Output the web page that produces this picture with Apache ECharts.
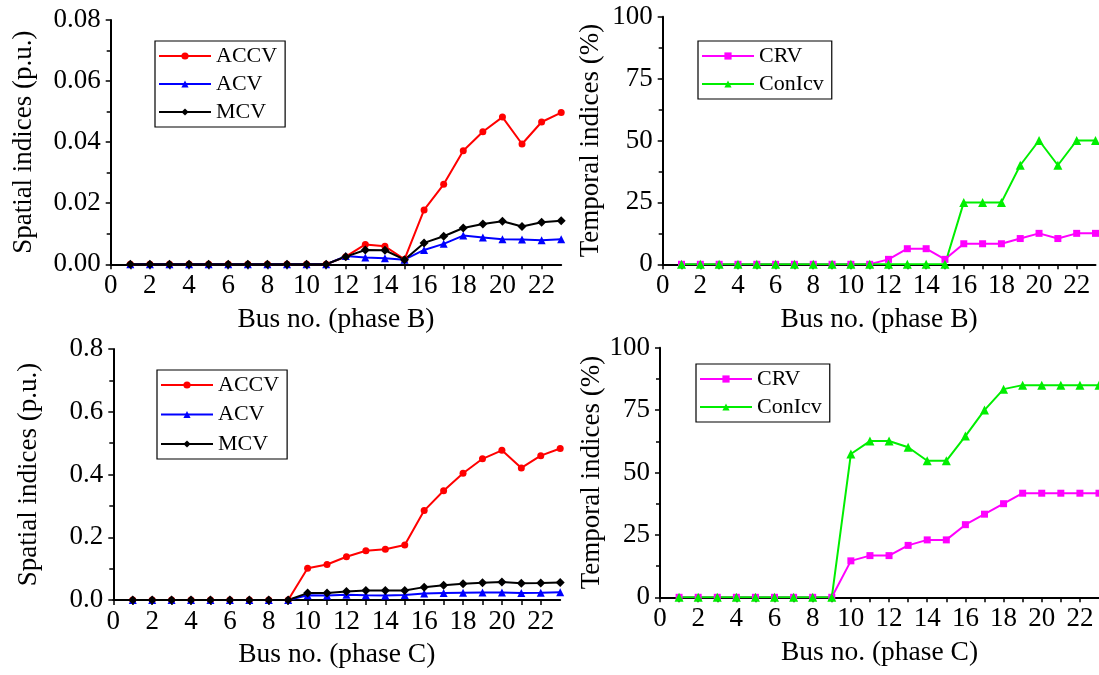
<!DOCTYPE html>
<html>
<head>
<meta charset="utf-8">
<script src="https://cdn.jsdelivr.net/npm/echarts@6/dist/echarts.min.js"></script>
<style>html,body{margin:0;padding:0;background:#fff}#c{width:1099px;height:675px}</style>
</head>
<body>
<div id="c"></div>
<script>
const busNo = [1,2,3,4,5,6,7,8,9,10,11,12,13,14,15,16,17,18,19,20,21,22,23];

// Phase B spatial indices (p.u.)
const accvB = [0,0,0,0,0,0,0,0,0,0,0,0.0025,0.0065,0.0059,0.0016,0.0178,0.0262,0.0372,0.0434,0.0482,0.0394,0.0466,0.0497];
const acvB  = [0,0,0,0,0,0,0,0,0,0,0,0.0027,0.0022,0.0020,0.0015,0.0047,0.0067,0.0094,0.0088,0.0082,0.0081,0.0079,0.0082];
const mcvB  = [0,0,0,0,0,0,0,0,0,0,0,0.0025,0.0047,0.0046,0.0015,0.0070,0.0092,0.0119,0.0132,0.0141,0.0124,0.0138,0.0143];
// Phase B temporal indices (%)
const crvB    = [0,0,0,0,0,0,0,0,0,0,0,2.0,6.3,6.3,2.0,8.3,8.3,8.3,10.4,12.5,10.4,12.5,12.5];
const conIcvB = [0,0,0,0,0,0,0,0,0,0,0,0,0,0,0,25,25,25,40,50,40,50,50];
// Phase C spatial indices (p.u.)
const accvC = [0,0,0,0,0,0,0,0,0,0.101,0.113,0.138,0.157,0.162,0.175,0.285,0.348,0.404,0.450,0.477,0.421,0.460,0.483];
const acvC  = [0,0,0,0,0,0,0,0,0,0.015,0.014,0.017,0.015,0.014,0.016,0.021,0.022,0.023,0.024,0.024,0.022,0.023,0.025];
const mcvC  = [0,0,0,0,0,0,0,0,0,0.022,0.022,0.027,0.030,0.030,0.030,0.041,0.047,0.052,0.055,0.057,0.053,0.054,0.056];
// Phase C temporal indices (%)
const crvC    = [0,0,0,0,0,0,0,0,0,14.6,16.7,16.7,20.8,23.0,23.0,29.1,33.3,37.5,41.7,41.7,41.7,41.7,41.7];
const conIcvC = [0,0,0,0,0,0,0,0,0,57.4,62.6,62.6,60.1,54.7,54.7,64.6,75.0,83.4,85.0,85.0,85.0,85.0,85.0];

const xTitles = ['Bus no. (phase B)', 'Bus no. (phase B)', 'Bus no. (phase C)', 'Bus no. (phase C)'];
const yTitles = ['Spatial indices (p.u.)', 'Temporal indices (%)', 'Spatial indices (p.u.)', 'Temporal indices (%)'];

const FONT = '"Liberation Serif", "Times New Roman", serif';
const pair = (xs, ys) => xs.map((x, i) => [x, ys[i]]);

const grids = [
  {left: 110.7, top: 20, width: 450.5, height: 244.3},
  {left: 662.7, top: 16.7, width: 432.8, height: 247.6},
  {left: 113.3, top: 349, width: 446.9, height: 251},
  {left: 660, top: 347.7, width: 442.6, height: 249.6}
];
const yCfg = [
  {max: 0.08, interval: 0.02, dec: 2, gap: 73},
  {max: 100, interval: 25, dec: 0, gap: 58},
  {max: 0.8, interval: 0.2, dec: 1, gap: 71},
  {max: 100, interval: 25, dec: 0, gap: 52}
];

const axisLine = {show: true, onZero: false, lineStyle: {color: '#000', width: 2}};

const xAxes = grids.map((g, i) => ({
  type: 'value', gridIndex: i, min: 0, max: 23, interval: 1,
  name: xTitles[i], nameLocation: 'middle', nameGap: 41,
  nameTextStyle: {fontFamily: FONT, fontSize: 27.5, color: '#000'},
  axisLine: axisLine,
  axisTick: {show: true, inside: false, length: 5, lineStyle: {color: '#000', width: 1.5}},
  axisLabel: {show: true, margin: 8, fontFamily: FONT, fontSize: 27, color: '#000',
    showMaxLabel: false,
    formatter: v => (Math.round(v) % 2 === 0 ? String(Math.round(v)) : '')},
  splitLine: {show: false}
}));

const yAxes = grids.map((g, i) => ({
  type: 'value', gridIndex: i, min: 0, max: yCfg[i].max, interval: yCfg[i].interval,
  name: yTitles[i], nameLocation: 'middle', nameGap: yCfg[i].gap,
  nameTextStyle: {fontFamily: FONT, fontSize: 27, color: '#000'},
  axisLine: axisLine,
  axisTick: {show: true, inside: false, length: 5, lineStyle: {color: '#000', width: 1.5}},
  minorTick: {show: true, splitNumber: 2, length: 4, lineStyle: {color: '#000', width: 1.5}},
  axisLabel: {show: true, margin: 10, fontFamily: FONT, fontSize: 27, color: '#000',
    formatter: v => v.toFixed(yCfg[i].dec)},
  splitLine: {show: false}
}));

function mk(name, data, gi, color, symbol, size) {
  return {
    name: name, type: 'line', xAxisIndex: gi, yAxisIndex: gi,
    data: pair(busNo, data), symbol: symbol, symbolSize: size,
    lineStyle: {color: color, width: 2}, itemStyle: {color: color},
    animation: false, clip: true
  };
}

const series = [
  mk('ACCV', accvB, 0, '#ff0000', 'circle', 7),
  mk('ACV', acvB, 0, '#0000ff', 'triangle', 8),
  mk('MCV', mcvB, 0, '#000000', 'diamond', 9),
  mk('CRV', crvB, 1, '#ff00ff', 'rect', 7),
  mk('ConIcv', conIcvB, 1, '#00ee00', 'triangle', 9),
  mk('ACCV', accvC, 2, '#ff0000', 'circle', 7),
  mk('ACV', acvC, 2, '#0000ff', 'triangle', 8),
  mk('MCV', mcvC, 2, '#000000', 'diamond', 9),
  mk('CRV', crvC, 3, '#ff00ff', 'rect', 7),
  mk('ConIcv', conIcvC, 3, '#00ee00', 'triangle', 9)
];

function leg(names, left, top, gap) {
  return {
    data: names, orient: 'vertical', left: left, top: top,
    itemWidth: 52, itemHeight: 9, itemGap: gap,
    padding: [4, 8, 4, 3],
    borderColor: '#000', borderWidth: 1.2,
    textStyle: {fontFamily: FONT, fontSize: 22, color: '#000'},
    selectedMode: false
  };
}

const chart = echarts.init(document.getElementById('c'), null, {renderer: 'canvas'});
chart.setOption({
  backgroundColor: '#fff',
  animation: false,
  grid: grids,
  xAxis: xAxes,
  yAxis: yAxes,
  legend: [
    leg(['ACCV', 'ACV', 'MCV'], 155, 41, 6),
    leg(['CRV', 'ConIcv'], 698, 41, 6),
    leg(['ACCV', 'ACV', 'MCV'], 157, 370, 7.5),
    leg(['CRV', 'ConIcv'], 696, 364, 6)
  ],
  series: series
});
</script>
</body>
</html>
